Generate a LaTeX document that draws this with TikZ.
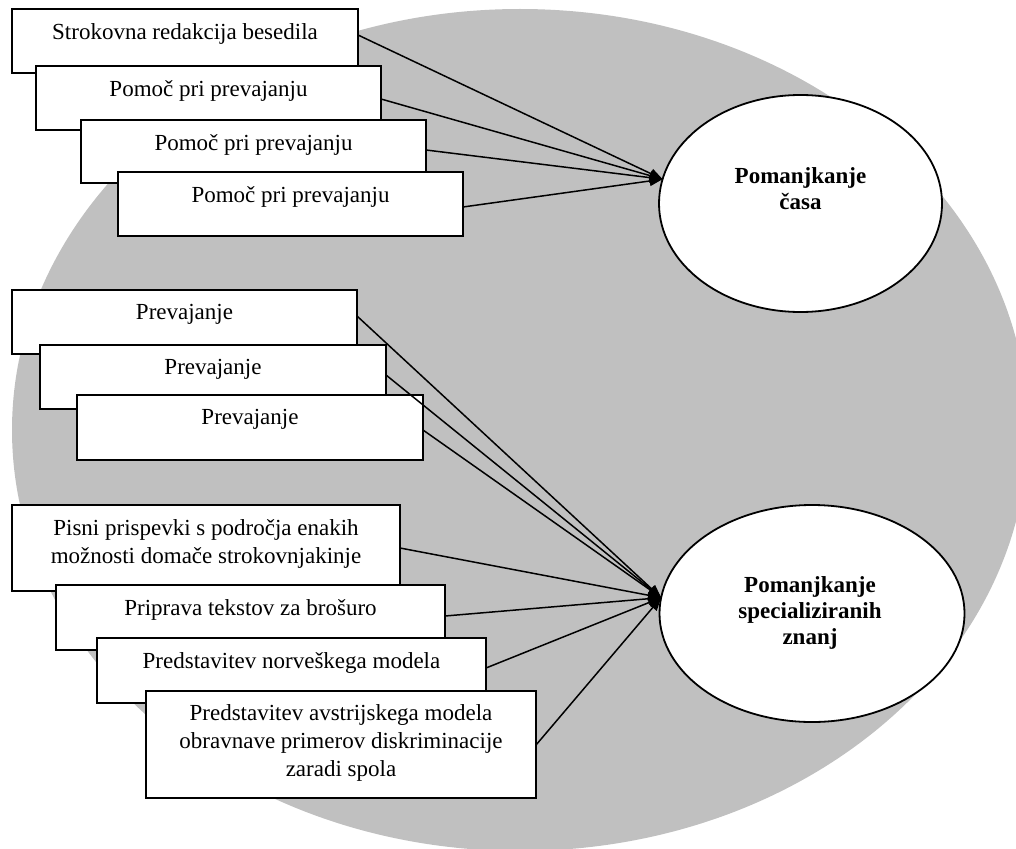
\documentclass[tikz,border=0pt]{standalone}
\usepackage{fontspec}
\setmainfont{Liberation Serif}
\usetikzlibrary{shapes.geometric,arrows.meta,calc}
\definecolor{bggray}{RGB}{192,192,192}
\begin{document}
\begin{tikzpicture}[x=1pt,y=-1pt,
  box/.style={draw=black, line width=2pt, fill=white, anchor=north west, outer sep=0pt, inner sep=0pt},
  boxtxt/.style={anchor=north, inner sep=0pt, align=center, font=\fontsize{23}{28}\selectfont},
  oval/.style={ellipse, draw=black, line width=1.8pt, fill=white, inner sep=0pt, outer sep=0pt},
  ovaltxt/.style={anchor=north, inner sep=0pt, align=center, font=\fontsize{23}{26}\selectfont\bfseries},
  link/.style={line width=1.5pt, -{Triangle[length=13pt,width=10pt]}}]
\useasboundingbox (0,0) rectangle (1016,848);
\begin{scope}
  \clip (0,0) rectangle (1016,848);
  \fill[bggray] (520,430) ellipse [x radius=508, y radius=421];
\end{scope}

% ellipses
\node[oval, minimum width=283pt, minimum height=217pt] (e1) at (800.5,203.5) {};
\node[ovaltxt] (e1t) at (800.5,167.5) {Pomanjkanje\\časa};
\node[oval, minimum width=305pt, minimum height=217pt] (e2) at (812,613.5) {};
\node[ovaltxt] (e2t) at (810,576.5) {Pomanjkanje\\specializiranih\\znanj};

% group 1
\node[box, minimum width=346pt, minimum height=64pt] (b1) at (12,9) {};
\node[boxtxt] (b1t) at ($(b1.north)+(0,14.5)$) {Strokovna redakcija besedila};
\node[box, minimum width=345pt, minimum height=64pt] (b2) at (36,66) {};
\node[boxtxt] (b2t) at ($(b2.north)+(0,14.5)$) {Pomoč pri prevajanju};
\node[box, minimum width=345pt, minimum height=63pt] (b3) at (81,120) {};
\node[boxtxt] (b3t) at ($(b3.north)+(0,14.5)$) {Pomoč pri prevajanju};
\node[box, minimum width=345pt, minimum height=64pt] (b4) at (118,172) {};
\node[boxtxt] (b4t) at ($(b4.north)+(0,14.5)$) {Pomoč pri prevajanju};

% group 2
\node[box, minimum width=345pt, minimum height=64pt] (b5) at (12,290) {};
\node[boxtxt] (b5t) at ($(b5.north)+(0,14.5)$) {Prevajanje};
\node[box, minimum width=346pt, minimum height=64pt] (b6) at (40,345) {};
\node[boxtxt] (b6t) at ($(b6.north)+(0,14.5)$) {Prevajanje};
\node[box, minimum width=346pt, minimum height=65pt] (b7) at (77,395) {};
\node[boxtxt] (b7t) at ($(b7.north)+(0,14.5)$) {Prevajanje};

% group 3
\node[box, minimum width=388pt, minimum height=86pt] (b8) at (12,505) {};
\node[boxtxt] (b8t) at ($(b8.north)+(0,14.5)$) {Pisni prispevki s področja enakih\\možnosti domače strokovnjakinje};
\node[box, minimum width=389pt, minimum height=65pt] (b9) at (56,585) {};
\node[boxtxt] (b9t) at ($(b9.north)+(0,14.5)$) {Priprava tekstov za brošuro};
\node[box, minimum width=389pt, minimum height=65pt] (b10) at (97,638) {};
\node[boxtxt] (b10t) at ($(b10.north)+(0,14.5)$) {Predstavitev norveškega modela};
\node[box, minimum width=390pt, minimum height=107pt] (b11) at (146,691) {};
\node[boxtxt] (b11t) at ($(b11.north)+(0,13.5)$) {Predstavitev avstrijskega modela\\obravnave primerov diskriminacije\\zaradi spola};

% connectors
\draw[link] ($(b1.north east)+(0,26)$) -- (e1.170);
\draw[link] ($(b2.north east)+(0,33)$) -- (e1.170);
\draw[link] ($(b3.north east)+(0,30)$) -- (e1.170);
\draw[link] ($(b4.north east)+(0,35)$) -- (e1.170);

\draw[link] ($(b5.north east)+(0,26)$) -- (e2.174);
\draw[link] ($(b6.north east)+(0,30)$) -- (e2.174);
\draw[link] ($(b7.north east)+(0,35)$) -- (e2.174);
\draw[link] ($(b8.north east)+(0,43)$) -- (e2.174);
\draw[link] ($(b9.north east)+(0,31)$) -- (e2.174);
\draw[link] ($(b10.north east)+(0,30)$) -- (e2.174);
\draw[link] ($(b11.north east)+(0,54)$) -- (e2.174);
\end{tikzpicture}
\end{document}
